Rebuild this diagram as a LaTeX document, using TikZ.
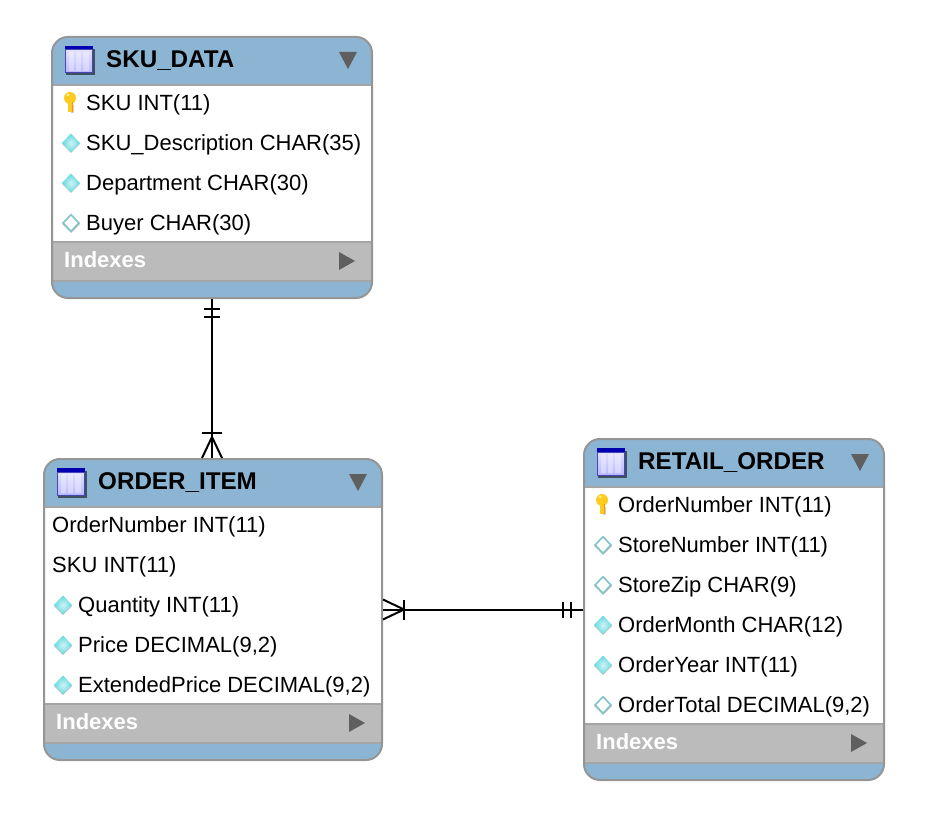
\documentclass[tikz,border=0pt]{standalone}
\usepackage{fontspec}
\setmainfont{Liberation Sans}
\usetikzlibrary{positioning, fit, shapes.geometric}
\definecolor{headblue}{HTML}{8CB4D3}
\definecolor{idxgray}{HTML}{BBBBBB}
\definecolor{edgegray}{HTML}{959595}
\definecolor{tipgray}{HTML}{5F5F5F}
\definecolor{keycyan}{HTML}{62D8DE}
\definecolor{keygold}{HTML}{FFCB1F}
\tikzset{
  tablebox/.style={draw=edgegray, line width=2pt, rounded corners=16pt, inner sep=0pt, minimum width=#1},
  title/.style={anchor=west, font=\bfseries\fontsize{24.2}{24}\selectfont, inner sep=0pt},
  field/.style={anchor=west, font=\fontsize{22}{22}\selectfont, inner sep=0pt},
  indexes/.style={anchor=west, font=\bfseries\fontsize{22}{22}\selectfont, text=white, inner sep=0pt},
  rel/.style={draw=black, line width=2pt},
  pics/tableicon/.style={code={
    \fill[black!55!headblue] (-13,-11) rectangle (16,15.5);
    \fill[blue!70!black] (-14.5,-14) rectangle (14,-10);
    \shade[top color=blue!12!white, bottom color=blue!28!white] (-14,-10) rectangle (13.5,13);
    \draw[blue!45!gray, line width=1pt] (-14,-10) rectangle (13.5,13);
    \fill[white, opacity=.35] (-10,-8) rectangle (-5,11) (-3,-8) rectangle (2,11) (4,-8) rectangle (10,11);
  }},
  pics/pkey/.style={code={
    \fill[black!18] (1,2) rectangle (4,10);
    \fill[keygold] (0,-5) circle (6);
    \fill[keygold] (-2.5,-2) rectangle (2.5,9);
    \fill[orange!85!yellow] (1.5,-1) rectangle (3,9);
    \fill[yellow!40!white] (-2,-8) circle (1.5);
  }},
  pics/fullkey/.style={code={
    \fill[black!22] (1,-8) -- (10,1) -- (1,10) -- (-8,1) -- cycle;
    \shade[inner color=white!70!keycyan, outer color=keycyan] (1,-9.5) -- (10,0) -- (1,9.5) -- (-8,0) -- cycle;
  }},
  pics/openkey/.style={code={
    \fill[black!22] (1,-8) -- (10,1) -- (1,10) -- (-8,1) -- cycle;
    \fill[keycyan!65!gray!85] (1,-9.5) -- (10,0) -- (1,9.5) -- (-8,0) -- cycle;
    \fill[white] (1,-7) -- (7.5,0) -- (1,7) -- (-5.5,0) -- cycle;
  }},
  pics/down/.style={code={\fill[tipgray] (-9,-8) -- (9,-8) -- (0,9) -- cycle;}},
  pics/right/.style={code={\fill[tipgray] (-8,-9) -- (8,0) -- (-8,9) -- cycle;}}
}
\begin{document}
\begin{tikzpicture}[x=1pt, y=-1pt]
\useasboundingbox (0,0) rectangle (934,818);
% SKU_DATA
\fill[headblue, rounded corners=16pt] (52,37) rectangle (372,298);
\fill[white] (52,85) rectangle (372,242);
\fill[idxgray] (52,242) rectangle (372,281);
\draw[edgegray!85!white, line width=1.6pt] (52,85) -- (372,85) (52,242) -- (372,242) (52,281) -- (372,281);
\node (sku) [tablebox=320pt, minimum height=261pt] at (212,167.5) {};
\pic at (79,60) {tableicon};
\node (skutitle) [title] at (106,61) {SKU\_DATA};
\pic at (348,60) {down};
\pic at (70,103) {pkey};
\node (skua) [field] at (86,105) {SKU INT(11)};
\pic at (70,143) {fullkey};
\node (skub) [field] at (86,145) {SKU\_Description CHAR(35)};
\pic at (70,183) {fullkey};
\node (skuc) [field] at (86,185) {Department CHAR(30)};
\pic at (70,223) {openkey};
\node (skud) [field] at (86,225) {Buyer CHAR(30)};
\node (skuidx) [indexes] at (64,260) {Indexes};
\pic at (347,261) {right};
% ORDER_ITEM
\fill[headblue, rounded corners=16pt] (44,459) rectangle (382,760);
\fill[white] (44,507) rectangle (382,704);
\fill[idxgray] (44,704) rectangle (382,743);
\draw[edgegray!85!white, line width=1.6pt] (44,507) -- (382,507) (44,704) -- (382,704) (44,743) -- (382,743);
\node (item) [tablebox=338pt, minimum height=301pt] at (213,609.5) {};
\pic at (71,482) {tableicon};
\node (itemtitle) [title] at (98,483) {ORDER\_ITEM};
\pic at (358,482) {down};
\node (itema) [field] at (52,527) {OrderNumber INT(11)};
\node (itemb) [field] at (52,567) {SKU INT(11)};
\pic at (62,605) {fullkey};
\node (itemc) [field] at (78,607) {Quantity INT(11)};
\pic at (62,645) {fullkey};
\node (itemd) [field] at (78,647) {Price DECIMAL(9,2)};
\pic at (62,685) {fullkey};
\node (iteme) [field] at (78,687) {ExtendedPrice DECIMAL(9,2)};
\node (itemidx) [indexes] at (56,722) {Indexes};
\pic at (357,723) {right};
% RETAIL_ORDER
\fill[headblue, rounded corners=16pt] (584,439) rectangle (884,780);
\fill[white] (584,487) rectangle (884,724);
\fill[idxgray] (584,724) rectangle (884,763);
\draw[edgegray!85!white, line width=1.6pt] (584,487) -- (884,487) (584,724) -- (884,724) (584,763) -- (884,763);
\node (order) [tablebox=300pt, minimum height=341pt] at (734,609.5) {};
\pic at (611,462) {tableicon};
\node (ordertitle) [title] at (638,463) {RETAIL\_ORDER};
\pic at (860,462) {down};
\pic at (602,505) {pkey};
\node (ordera) [field] at (618,507) {OrderNumber INT(11)};
\pic at (602,545) {openkey};
\node (orderb) [field] at (618,547) {StoreNumber INT(11)};
\pic at (602,585) {openkey};
\node (orderc) [field] at (618,587) {StoreZip CHAR(9)};
\pic at (602,625) {fullkey};
\node (orderd) [field] at (618,627) {OrderMonth CHAR(12)};
\pic at (602,665) {fullkey};
\node (ordere) [field] at (618,667) {OrderYear INT(11)};
\pic at (602,705) {openkey};
\node (orderf) [field] at (618,707) {OrderTotal DECIMAL(9,2)};
\node (orderidx) [indexes] at (596,742) {Indexes};
\pic at (859,743) {right};
% relationships
\draw[rel] (sku.south) -- (sku.south |- item.north);
\path (sku.south) ++(0,10) coordinate (s1);
\path (sku.south) ++(0,18) coordinate (s2);
\draw[rel] (s1) ++(-8,0) -- ++(16,0);
\draw[rel] (s2) ++(-8,0) -- ++(16,0);
\path (sku.south |- item.north) ++(0,-25) coordinate (t1);
\draw[rel] (t1) ++(-10,0) -- ++(20,0);
\path (t1) ++(0,4) coordinate (t2);
\draw[rel] (t2) ++(-10,21) -- (t2) -- ++(10,21);
\draw[rel] (item.east) -- (order.west);
\path (item.east) ++(21,0) coordinate (i1);
\draw[rel] (i1) ++(0,-10) -- ++(0,20);
\draw[rel] (item.east) ++(0,-10) -- (i1) -- ++(-21,10);
\path (order.west) ++(-20,0) coordinate (o1);
\path (order.west) ++(-12,0) coordinate (o2);
\draw[rel] (o1) ++(0,-8) -- ++(0,16);
\draw[rel] (o2) ++(0,-8) -- ++(0,16);
\end{tikzpicture}
\end{document}
